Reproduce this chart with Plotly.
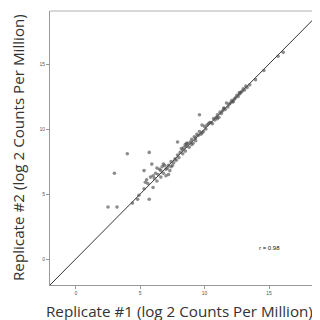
import plotly.graph_objects as go

rep1 = [2.5, 3.2, 3.0, 4.0, 5.7, 4.4, 4.8, 5.7, 4.9, 5.3, 5.6, 5.4, 6.0, 5.3, 5.9, 5.5, 5.8, 6.0, 6.1, 6.3,
        6.2, 6.4, 6.5, 6.6, 6.3, 6.7, 6.8, 7.0, 6.9, 7.1, 7.2, 7.3, 7.4, 7.5, 7.6, 7.2, 7.0, 6.6, 7.7, 7.8,
        7.9, 8.0, 8.1, 7.9, 8.2, 8.3, 8.4, 8.5, 8.5, 8.6, 8.7, 8.8, 8.9, 9.0, 9.1, 9.2, 9.3, 9.4, 9.5, 9.6,
        9.6, 9.7, 9.8, 9.9, 10.0, 10.1, 10.2, 10.3, 10.5, 10.6, 10.7, 10.8, 10.9, 11.0, 11.1, 11.2, 11.3, 11.4,
        11.5, 11.6, 11.7, 11.8, 11.9, 12.0, 12.1, 12.2, 12.3, 12.4, 12.5, 12.6, 12.7, 12.8, 12.9, 13.0, 13.1,
        13.2, 13.3, 13.5, 13.95, 14.6, 15.7, 16.1, 8.3, 8.6, 9.0, 9.3, 9.8, 10.4, 11.0, 11.5, 12.2, 12.7, 7.4, 6.8]
rep2 = [4.0, 4.0, 6.6, 8.1, 8.2, 4.3, 4.6, 4.6, 4.9, 5.4, 5.8, 5.9, 5.5, 6.8, 7.3, 6.1, 6.3, 6.4, 6.2, 6.0,
        6.6, 6.5, 6.9, 6.8, 7.0, 7.1, 6.6, 6.9, 7.2, 7.0, 7.2, 6.8, 7.5, 7.2, 7.4, 6.5, 6.4, 6.3, 7.7, 7.6,
        8.0, 7.8, 8.2, 9.0, 8.5, 8.4, 8.6, 8.3, 8.8, 8.7, 8.9, 8.6, 9.0, 9.2, 8.9, 9.4, 9.3, 9.6, 9.5, 11.1,
        9.8, 9.6, 10.3, 9.8, 10.2, 10.0, 10.3, 10.4, 10.5, 10.4, 10.8, 10.7, 10.9, 11.1, 10.9, 11.3, 11.2, 11.4,
        11.6, 11.5, 12.0, 11.7, 11.9, 12.0, 12.2, 12.1, 12.3, 12.4, 12.6, 12.5, 12.7, 12.8, 12.9, 13.1, 13.0,
        13.3, 13.2, 13.4, 13.8, 14.5, 15.6, 15.9, 8.1, 8.9, 8.8, 9.1, 9.7, 10.5, 10.8, 11.6, 12.1, 12.8, 7.1, 7.3]

diag = [-2, 22]
tick_vals = [0, 5, 10, 15]
tick_text = ["0", "5", "10", "15"]
r_label = "r = 0.98"
x_title = "Replicate #1 (log 2 Counts Per Million)"
y_title = "Replicate #2 (log 2 Counts Per Million)"

# the page body has an 8px margin, so the figure is drawn 8px in from the window corner
W, H = 312, 312
ML, MR, MT, MB = 42, 2, 3, 35

fig = go.Figure()
fig.add_trace(go.Scatter(x=diag, y=diag, mode="lines",
                         line=dict(color="#333333", width=1), hoverinfo="skip"))
fig.add_trace(go.Scatter(x=rep1, y=rep2, mode="markers",
                         marker=dict(color="rgba(80,80,80,0.65)", size=3.6, line=dict(width=0))))

axis_common = dict(
    showgrid=False, zeroline=False, showline=True, linecolor="#999999", linewidth=1,
    ticks="outside", ticklen=3, tickcolor="#999999", tickwidth=1,
    tickvals=tick_vals, ticktext=tick_text, automargin=False,
    tickfont=dict(family="Arial, Liberation Sans", size=5, color="#555555"),
)

title_font = dict(family="Open Sans", size=15.2, color="#333333")

pw, ph = W - ML - MR, H - MT - MB


def px_to_paper(px, py):
    return (px - ML) / pw, (H - MB - py) / ph


xt = px_to_paper(171, 302.5)
yt = px_to_paper(10, 140)

fig.update_layout(
    width=W, height=H,
    margin=dict(l=ML, r=MR, t=MT, b=MB),
    paper_bgcolor="white", plot_bgcolor="white",
    showlegend=False,
    xaxis=dict(range=[-2, 18.8], **axis_common),
    yaxis=dict(range=[-2, 19.08], **axis_common),
    shapes=[dict(type="line", xref="paper", yref="paper", x0=0, x1=1, y0=1, y1=1,
                 line=dict(color="#cccccc", width=1.5))],
    annotations=[
        dict(x=15.0, y=0.85, xref="x", yref="y", text=r_label, showarrow=False,
             font=dict(family="Arial, Liberation Sans", size=6, color="#111111")),
        dict(x=xt[0], y=xt[1], xref="paper", yref="paper", text=x_title, showarrow=False,
             xanchor="center", yanchor="middle", font=title_font),
        dict(x=yt[0], y=yt[1], xref="paper", yref="paper", text=y_title, showarrow=False,
             xanchor="center", yanchor="middle", textangle=-90, font=title_font),
    ],
)

fig.write_html("out.html")
